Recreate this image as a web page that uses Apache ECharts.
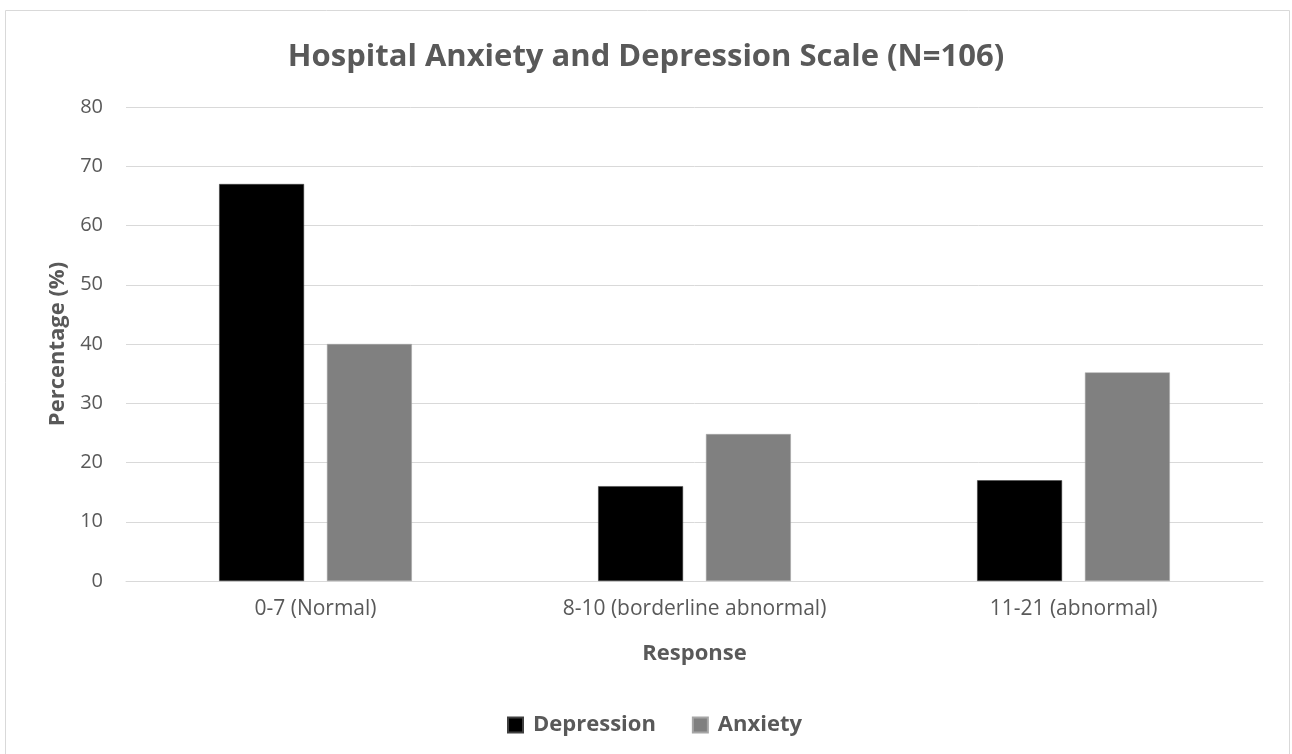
<!DOCTYPE html>
<html>
<head>
<meta charset="utf-8">
<script src="https://cdn.jsdelivr.net/npm/echarts@6/dist/echarts.min.js"></script>
<style>
html,body{margin:0;padding:0;background:#fff;}
#chart{width:1292px;height:754px;}
</style>
</head>
<body>
<div id="chart"></div>
<script>
const categories = ['0-7 (Normal)', '8-10 (borderline abnormal)', '11-21 (abnormal)'];
const depression = [67, 16, 17];
const anxiety = [40, 24.8, 35.2];
const yTicks = [0, 10, 20, 30, 40, 50, 60, 70, 80];

const FONT = 'Open Sans';
const chart = echarts.init(document.getElementById('chart'), null, {renderer: 'canvas'});
chart.setOption({
  backgroundColor: '#ffffff',
  animation: false,
  textStyle: {fontFamily: FONT},
  graphic: [{
    type: 'rect',
    shape: {x: 5.5, y: 10.5, width: 1284, height: 760},
    style: {fill: 'none', stroke: '#d9d9d9', lineWidth: 1},
    silent: true
  }],
  title: {
    text: 'Hospital Anxiety and Depression Scale (N=106)',
    left: 'center',
    top: 37,
    textStyle: {fontFamily: FONT, fontWeight: 'bold', fontSize: 31, color: '#595959'}
  },
  legend: {
    data: ['Depression', 'Anxiety'],
    top: 709,
    left: 502,
    itemWidth: 15,
    itemHeight: 15,
    itemGap: 36,
    icon: 'rect',
    textStyle: {fontFamily: FONT, fontWeight: 'bold', fontSize: 22, color: '#595959', padding: [0, 0, 0, 5]}
  },
  grid: {left: 126, right: 29, top: 107, bottom: 173, containLabel: false},
  xAxis: {
    type: 'category',
    data: categories,
    name: 'Response',
    nameLocation: 'middle',
    nameGap: 62,
    nameTextStyle: {fontFamily: FONT, fontWeight: 'bold', fontSize: 22, color: '#595959'},
    axisLine: {show: true, lineStyle: {color: '#d9d9d9', width: 1}},
    axisTick: {show: false},
    axisLabel: {fontFamily: FONT, fontSize: 21, color: '#595959', margin: 18}
  },
  yAxis: {
    type: 'value',
    min: yTicks[0],
    max: yTicks[yTicks.length - 1],
    interval: 10,
    name: 'Percentage (%)',
    nameLocation: 'middle',
    nameGap: 56,
    nameTextStyle: {fontFamily: FONT, fontWeight: 'bold', fontSize: 22, color: '#595959'},
    axisLine: {show: false},
    axisTick: {show: false},
    axisLabel: {fontFamily: FONT, fontSize: 20, color: '#595959', margin: 23},
    splitLine: {show: true, lineStyle: {color: '#d9d9d9', width: 1}}
  },
  series: [
    {
      name: 'Depression',
      type: 'bar',
      data: depression,
      barWidth: '22.4%',
      barGap: '27%',
      itemStyle: {color: '#000000', borderColor: '#404040', borderWidth: 0.5}
    },
    {
      name: 'Anxiety',
      type: 'bar',
      data: anxiety,
      barWidth: '22.4%',
      itemStyle: {color: '#808080', borderColor: '#a6a6a6', borderWidth: 0.5}
    }
  ]
});
</script>
</body>
</html>
